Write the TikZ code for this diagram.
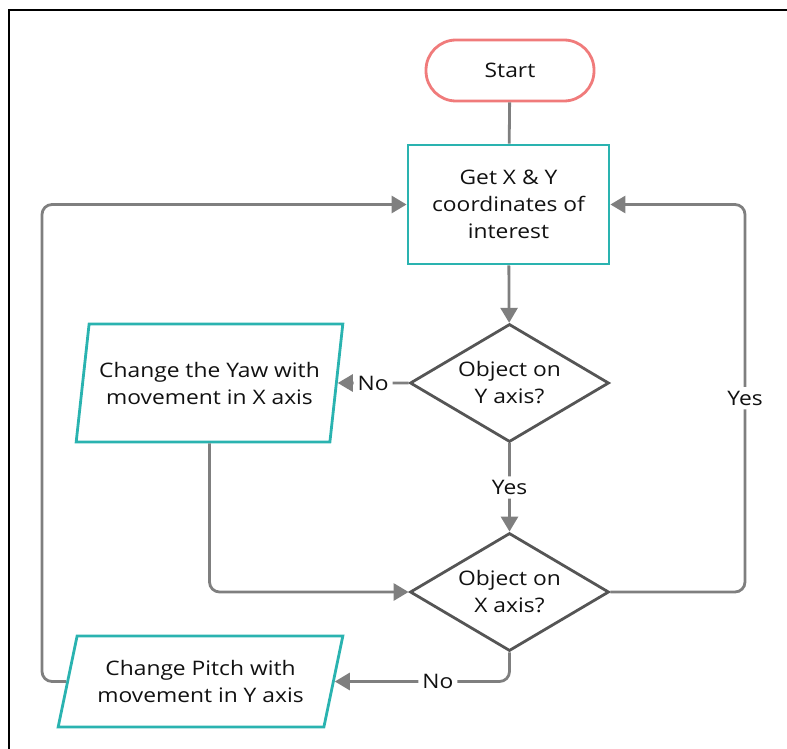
\documentclass[tikz,border=0pt]{standalone}
\usepackage{fontspec}
\setmainfont[FakeStretch=1.14]{Open Sans}
\usetikzlibrary{shapes.geometric,arrows.meta}
\definecolor{teal}{HTML}{2AB3B0}
\definecolor{salmon}{HTML}{F07B7B}
\definecolor{dgray}{HTML}{555555}
\definecolor{cgray}{HTML}{7F7F7F}
\definecolor{txt}{HTML}{111111}
\begin{document}
\begin{tikzpicture}[x=1pt,y=-1pt,
  every node/.style={font=\fontsize{20}{27}\selectfont, text=txt, align=center},
  termbox/.style={draw=salmon, line width=2.8pt, rounded corners=30pt, minimum width=168pt, minimum height=61pt, inner sep=0pt},
  procbox/.style={draw=teal, line width=2.8pt, minimum width=201pt, minimum height=119pt, inner sep=0pt},
  decbox/.style={draw=dgray, line width=2.8pt, diamond, aspect=1.69, minimum width=199pt, minimum height=118pt, inner sep=0pt},
  iobox/.style={draw=teal, line width=2.8pt, trapezium, trapezium stretches=true, inner sep=0pt},
  conn/.style={draw=cgray, line width=2.8pt, rounded corners=10pt},
  arr/.style={conn, -{Triangle[length=15pt,width=17pt]}},
  lbl/.style={fill=white, inner sep=4pt}
]
\useasboundingbox (0,0) rectangle (787,749);
\draw[black, line width=2pt] (8.5,749) -- (8.5,10.5) -- (787,10.5);

\node[termbox] (start) at (510,70.5) {Start};
\node[procbox] (get) at (508.5,204.5) {Get X \& Y\\coordinates of\\interest};
\node[decbox] (d1) at (509.5,383) {Object on\\Y axis?};
\node[decbox] (d2) at (509.5,592) {Object on\\X axis?};
\node[iobox, trapezium left angle=74.4, trapezium right angle=105.6, minimum width=267pt, minimum height=118pt] (p1) at (209.5,383) {Change the Yaw with\\movement in X axis};
\node[iobox, trapezium left angle=69.5, trapezium right angle=110.5, minimum width=285pt, minimum height=91pt] (p2) at (200.5,681.5) {Change Pitch with\\movement in Y axis};

\coordinate (cr) at (745,592);
\coordinate (cl) at (42,681.5);
\coordinate (cb) at (509.5,681.5);

\draw[conn] (start) -- (get);
\draw[arr] (get) -- (d1);
\draw[arr] (d1.west) -- node[lbl]{No} (p1);
\draw[arr] (d1.south) -- node[lbl]{Yes} (d2.north);
\draw[arr] (p1.south) |- (d2.west);
\draw[arr] (d2.east) -- (cr) -- node[lbl]{Yes} (cr |- get.east) -- (get.east);
\draw[arr] (d2.south) -- (cb) -- node[lbl, pos=0.41]{No} (p2);
\draw[arr] (p2.west) -- (cl) |- (get.west);
\end{tikzpicture}
\end{document}
